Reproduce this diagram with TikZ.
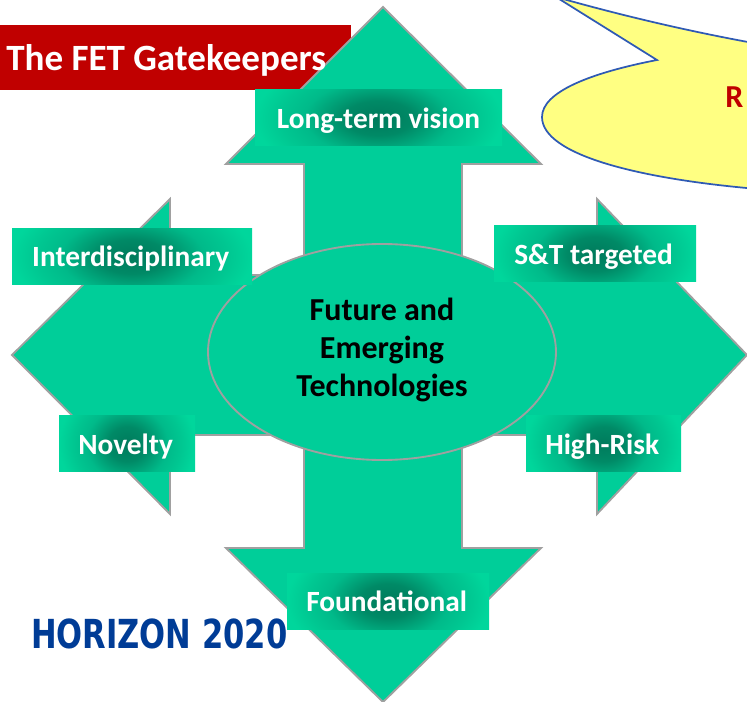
\documentclass[tikz,border=0pt]{standalone}
\usepackage{fontspec}
\setmainfont{Carlito}
\newfontfamily\logofont{DejaVu Sans}
\usetikzlibrary{shapes.geometric}
\definecolor{fetgreen}{RGB}{0,206,153}
\definecolor{fetlight}{RGB}{0,214,155}
\definecolor{fetline}{RGB}{160,160,160}
\definecolor{fetred}{RGB}{192,0,0}
\definecolor{fetblue}{RGB}{47,90,180}
\definecolor{fetyellow}{RGB}{255,255,130}
\definecolor{logoblue}{RGB}{0,60,150}
\pgfdeclareradialshading{fetbox}{\pgfpoint{0bp}{0bp}}{rgb(0bp)=(0,0.48,0.36);rgb(7bp)=(0,0.54,0.40);rgb(15bp)=(0,0.73,0.54);rgb(20bp)=(0,0.78,0.57);rgb(25bp)=(0,0.84,0.61);rgb(50bp)=(0,0.84,0.61)}
\newcommand{\gatetext}[1]{\hspace*{-2pt}\raisebox{-7.6pt}[0pt][0pt]{#1}}
\tikzset{
  x=0.75pt,y=-0.75pt,
  gatebox/.style={fill=fetlight,draw=none,inner sep=0pt,text=white,font=\fontsize{22}{26}\selectfont\bfseries,
    minimum width=#1*0.75pt,minimum height=56*0.75pt,
    path picture={\shade[shading=fetbox] ([xshift=-#1*0.375pt,yshift=-46.5pt]path picture bounding box.center) rectangle ([xshift=#1*0.375pt,yshift=46.5pt]path picture bounding box.center);}},
  crossshape/.style={fill=fetgreen,draw=fetline,line width=1.4pt,line join=miter},
}
\begin{document}
\begin{tikzpicture}
\useasboundingbox (0,0) rectangle (747,702);
\begin{scope}
\clip (0,0) rectangle (747,702);
\node[fill=fetred,minimum width=351*0.75pt,minimum height=65*0.75pt,inner sep=0pt,anchor=north west] (titlebox) at (0,25) {};
\draw[fill=fetyellow,draw=fetblue,line width=1.3pt] (556,-3) -- (657,60) .. controls (590,73) and (542,92) .. (542,117) .. controls (542,155) and (640,180) .. (770,190) -- (770,46) .. controls (690,32) and (620,15) .. (556,-3) -- cycle;
\node[text=fetred,font=\fontsize{24}{28}\selectfont\bfseries,anchor=west,inner sep=0pt] (rtext) at (725,97) {R};
\end{scope}
\draw[crossshape] (383,7) -- (541,164) -- (462,164) -- (462,275) -- (597,275) -- (597,199) -- (747,355) -- (597,514) -- (597,435) -- (462,435) -- (462,548) -- (541,548) -- (383,702) -- (226,548) -- (304,548) -- (304,435) -- (170,435) -- (170,514) -- (12,355) -- (170,199) -- (170,275) -- (304,275) -- (304,164) -- (226,164) -- cycle;
\node[ellipse,fill=fetgreen,draw=fetline,line width=1.4pt,minimum width=348*0.75pt,minimum height=216*0.75pt,inner sep=0pt] (core) at (382,352) {};
\node[font=\fontsize{24}{28.5}\selectfont\bfseries,align=center,text=black,inner sep=0pt] (coretext) at (382,350) {Future and\\Emerging\\Technologies};
\node[text=white,font=\fontsize{27.8}{32}\selectfont\bfseries,anchor=west,inner sep=0pt] (title) at (6,60) {The FET Gatekeepers};
\node[gatebox=247] (vision) at (378.5,118) {\gatetext{\hspace*{2pt}Long-term vision}};
\node[gatebox=240] (inter) at (132,256.5) {\gatetext{Interdisciplinary}};
\node[gatebox=202] (st) at (595,254) {\gatetext{S\&T targeted}};
\node[gatebox=136] (novelty) at (127,444) {\gatetext{Novelty}};
\node[gatebox=155] (risk) at (603.5,444) {\gatetext{High-Risk}};
\node[gatebox=202] (found) at (388,601) {\gatetext{Foundational}};
\node[text=logoblue,font=\logofont\fontsize{30}{34}\selectfont\bfseries,anchor=west,inner sep=0pt,xscale=0.765,transform shape] (logo) at (31,634) {HORIZON 2020};
\end{tikzpicture}
\end{document}
